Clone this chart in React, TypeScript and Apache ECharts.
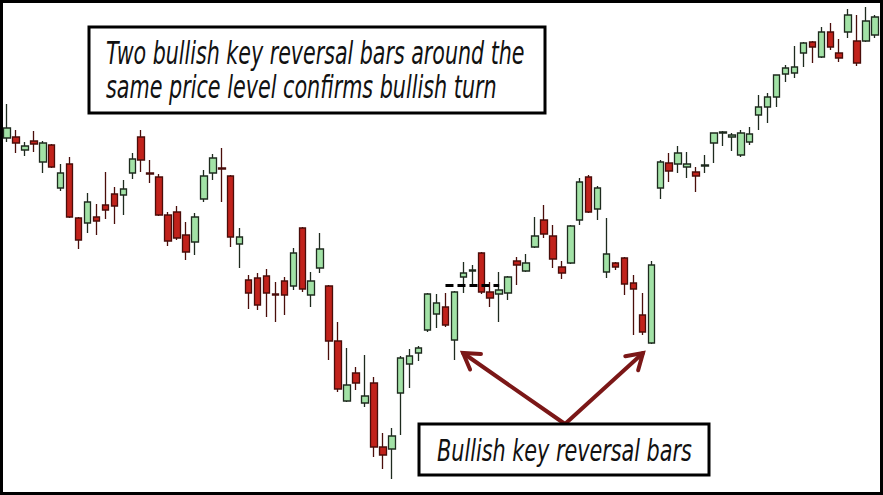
import * as echarts from "echarts";
import { useEffect, useRef } from "react";

// price units: 0 at the bottom edge of the picture, 495 at the top
const bars = Array.from({ length: 98 }, (_, i) => String(i + 1));

const opens = [
  357, 358, 345, 354, 333, 350, 307, 331, 277, 272,
  278, 290, 301, 300, 322, 358, 322, 318, 280, 283,
  260, 253, 296, 322, 327, 319, 251, 215, 217, 219,
  201, 214, 209, 267, 200, 227, 209, 154, 94, 122,
  92, 112, 48, 46, 102, 131, 142, 165, 181, 188,
  155, 218, 224, 242, 203, 201, 202, 234, 224, 248,
  275, 259, 228, 232, 275, 318, 286, 223, 232, 237,
  212, 180, 152, 307, 332, 331, 328, 323, 329, 352,
  362, 358, 340, 353, 380, 388, 398, 421, 422, 442,
  453, 438, 463, 442, 463, 454, 454, 460
];

const closes = [
  367, 352, 349, 351, 352, 328, 322, 278, 255, 293,
  274, 285, 289, 306, 336, 335, 321, 280, 254, 257,
  243, 278, 319, 337, 326, 258, 258, 202, 190, 202,
  200, 200, 242, 206, 214, 246, 154, 106, 110, 112,
  99, 48, 40, 59, 137, 139, 147, 201, 192, 170,
  203, 222, 225, 203, 197, 205, 218, 230, 232, 259,
  261, 236, 222, 269, 313, 283, 307, 241, 228, 211,
  206, 163, 230, 333, 324, 342, 331, 319, 330, 362,
  363, 360, 362, 361, 388, 398, 420, 427, 428, 452,
  448, 463, 448, 437, 480, 432, 474, 478
];

const lows = [
  353, 342, 339, 343, 322, 327, 304, 277, 246, 262,
  260, 276, 271, 280, 316, 323, 312, 279, 249, 255,
  235, 240, 293, 315, 293, 248, 227, 186, 185, 178,
  173, 180, 205, 203, 188, 222, 135, 103, 93, 105,
  88, 38, 26, 16, 60, 107, 134, 163, 167, 168,
  135, 202, 210, 201, 188, 173, 195, 210, 223, 247,
  257, 227, 216, 231, 270, 282, 275, 217, 225, 200,
  160, 160, 151, 296, 313, 322, 317, 303, 322, 332,
  349, 344, 338, 350, 365, 372, 388, 413, 417, 428,
  432, 437, 445, 433, 457, 429, 453, 457
];

const highs = [
  391, 365, 353, 364, 354, 351, 331, 338, 278, 302,
  291, 323, 308, 315, 342, 365, 335, 321, 283, 289,
  273, 282, 325, 341, 347, 320, 267, 220, 222, 226,
  213, 218, 247, 268, 223, 262, 210, 173, 147, 128,
  140, 118, 62, 67, 139, 146, 149, 202, 201, 202,
  204, 233, 230, 243, 213, 223, 219, 238, 241, 278,
  290, 270, 234, 270, 317, 320, 309, 277, 233, 238,
  220, 202, 234, 335, 342, 349, 343, 328, 340, 362,
  364, 362, 365, 368, 400, 402, 420, 430, 449, 453,
  454, 468, 472, 456, 486, 480, 488, 480
];

// dashed level across the two bars, from bar 50 to bar 56
const levelFrom = "50";
const levelTo = "56";
const levelPrice = 210;

const topLines = [
  "Two bullish key reversal bars around the",
  "same price level confirms bullish turn"
];
const bottomLabel = "Bullish key reversal bars";

const FONT_FAMILY = '"Liberation Sans Narrow", "DejaVu Sans Condensed", Roboto, sans-serif';
const ARROW = "#7b1717";

function fitScale(text: string, font: string, width: number) {
  const ctx = document.createElement("canvas").getContext("2d");
  if (!ctx) return 1;
  ctx.font = font;
  const w = ctx.measureText(text).width;
  return w > 0 ? width / w : 1;
}

function fittedText(text: string, x: number, y: number, size: number, width: number) {
  const font = `italic ${size}px ${FONT_FAMILY}`;
  return {
    type: "text",
    x,
    y,
    scaleX: fitScale(text, font, width),
    style: { text, font, fill: "#111", textAlign: "left", verticalAlign: "middle" }
  };
}

function arrow(tipX: number, tipY: number, tailX: number, tailY: number) {
  const a = Math.atan2(tailY - tipY, tailX - tipX);
  const spread = (32 * Math.PI) / 180;
  const len = 18;
  const arm = (d: number) => [tipX + len * Math.cos(a + d), tipY + len * Math.sin(a + d)];
  const style = { stroke: ARROW, lineWidth: 4, lineCap: "round", lineJoin: "miter", fill: null };
  return [
    { type: "line", shape: { x1: tailX, y1: tailY, x2: tipX, y2: tipY }, style },
    { type: "polyline", shape: { points: [arm(spread), [tipX, tipY], arm(-spread)] }, style }
  ];
}

export default function App() {
  const ref = useRef<HTMLDivElement | null>(null);

  useEffect(() => {
    if (!ref.current) {
      return;
    }

    const chart = echarts.init(ref.current, null, { renderer: "svg" });
    chart.setOption({
      animation: false,
      backgroundColor: "#fff",
      grid: { left: 2.5, right: 3.5, top: 0, bottom: 0 },
      xAxis: { type: "category", data: bars, show: false },
      yAxis: { type: "value", min: 0, max: 495, show: false, splitLine: { show: false } },
      series: [
        {
          type: "candlestick",
          barWidth: 7,
          data: bars.map((_, i) => [opens[i], closes[i], lows[i], highs[i]]),
          itemStyle: {
            color: "#a2e2a6",
            color0: "#c1221b",
            borderColor: "#1e2a1e",
            borderColor0: "#4a0d0a",
            borderWidth: 1.3
          },
          markLine: {
            silent: true,
            symbol: "none",
            label: { show: false },
            lineStyle: { color: "#000", width: 3, type: [8, 4] },
            data: [[{ coord: [levelFrom, levelPrice] }, { coord: [levelTo, levelPrice] }]]
          }
        }
      ],
      graphic: [
        {
          type: "rect",
          shape: { x: 89, y: 27, width: 456, height: 86 },
          style: { fill: "#fff", stroke: "#000", lineWidth: 3 }
        },
        fittedText(topLines[0], 106, 53, 32, 419),
        fittedText(topLines[1], 106, 87, 32, 391),
        ...arrow(463, 353, 565, 424),
        ...arrow(643, 353, 565, 424),
        {
          type: "rect",
          shape: { x: 419, y: 424, width: 290, height: 51 },
          style: { fill: "#fff", stroke: "#000", lineWidth: 3 }
        },
        fittedText(bottomLabel, 437, 450, 30, 255),
        {
          type: "rect",
          shape: { x: 1.5, y: 1.5, width: 880, height: 492 },
          style: { fill: null, stroke: "#000", lineWidth: 3 }
        }
      ]
    });

    return () => {
      chart.dispose();
    };
  }, []);

  return (
    <div
      ref={ref}
      style={{ position: "fixed", left: 0, top: 0, width: 883, height: 495, background: "#fff" }}
    />
  );
}
